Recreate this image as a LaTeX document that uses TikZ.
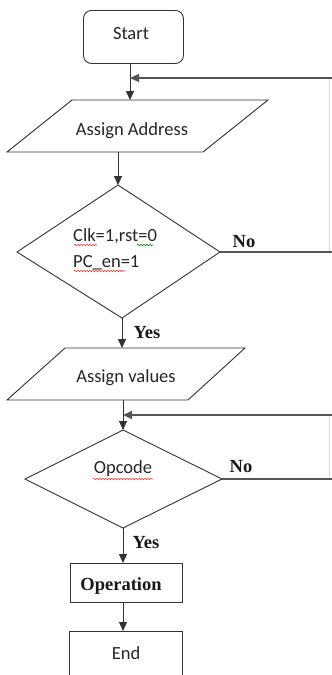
\documentclass[tikz,border=0pt]{standalone}
\usepackage{fontspec}
\setmainfont{Carlito}
\newfontfamily\tnr{Liberation Serif}
\usetikzlibrary{arrows.meta,decorations.pathmorphing}
\definecolor{ink}{HTML}{333333}
\definecolor{fb}{HTML}{555555}
\begin{document}
\begin{tikzpicture}[x=1pt,y=-1pt,
  shapeline/.style={draw=ink,line width=0.9pt},
  flow/.style={draw=ink,line width=0.9pt,-{Triangle[length=9pt,width=8pt]}},
  back/.style={draw=fb,line width=1.4pt},
  backarrow/.style={draw=fb,line width=1.4pt,-{Triangle[length=9pt,width=8pt]}},
  edgeline/.style={draw=fb!22,line width=0.6pt},
  txt/.style={font=\fontsize{18.5}{22}\selectfont,inner sep=0pt,text=black!85},
  lbl/.style={font=\tnr\bfseries\fontsize{18.5}{22}\selectfont,inner sep=0pt,text=black!90},
  squig/.style={decorate,decoration={snake,amplitude=0.7pt,segment length=3pt},line width=0.6pt}
]
\useasboundingbox (0,0) rectangle (332,675);
\clip (0,0) rectangle (332,675);
\fill[white] (0,0) rectangle (332,675);

% Start
\node[shapeline,rounded corners=8pt,minimum width=100pt,minimum height=53pt,anchor=north west,inner sep=0pt] (start) at (83,10) {};
\node[txt] (starttxt) at (131,34) {Start};

% Assign Address
\coordinate (aaTL) at (72,100); \coordinate (aaTR) at (268,100);
\coordinate (aaBR) at (203,152); \coordinate (aaBL) at (7,152);
\draw[shapeline] (aaTL) -- (aaTR) -- (aaBR) -- (aaBL) -- cycle;
\node[txt] (aatxt) at (132,131) {Assign Address};
\coordinate (aaIn) at (130,100);
\coordinate (aaOut) at (118,152);
\coordinate (startOut) at (130,63);
\coordinate (j1) at (130,78);

% Decision 1
\coordinate (d1T) at (118,185); \coordinate (d1R) at (220,252);
\coordinate (d1B) at (122,318); \coordinate (d1L) at (17,252);
\draw[shapeline] (d1T) -- (d1R) -- (d1B) -- (d1L) -- cycle;
\node[txt,anchor=west] (d1a) at (73,236) {Clk=1,rst=0};
\node[txt,anchor=west] (d1b) at (73,263) {PC\_en=1};
\draw[squig,red!80] (74,245) -- (97,245);
\draw[squig,green!50!black] (137,245) -- (153,245);
\draw[squig,red!80] (74,271) -- (125,271);
\node[lbl] (no1) at (244,242) {No};
\node[lbl] (yes1) at (147,333) {Yes};

% Assign values
\coordinate (avTL) at (65,348); \coordinate (avTR) at (245,348);
\coordinate (avBR) at (188,400); \coordinate (avBL) at (7,400);
\draw[shapeline] (avTL) -- (avTR) -- (avBR) -- (avBL) -- cycle;
\node[txt] (avtxt) at (126,378) {Assign values};
\coordinate (avIn) at (122,348);
\coordinate (avOut) at (123,400);
\coordinate (j2) at (123,415);

% Decision 2
\coordinate (d2T) at (123,430); \coordinate (d2R) at (222,479);
\coordinate (d2B) at (123,528); \coordinate (d2L) at (25,479);
\draw[shapeline] (d2T) -- (d2R) -- (d2B) -- (d2L) -- cycle;
\node[txt] (d2txt) at (123,469) {Opcode};
\draw[squig,red!80] (93,479) -- (153,479);
\node[lbl] (no2) at (241,467) {No};
\node[lbl] (yes2) at (146,543) {Yes};

% Operation
\node[shapeline,minimum width=112pt,minimum height=39pt,anchor=north west,inner sep=0pt] (op) at (70,563) {};
\node[lbl] (optxt) at (121,586) {Operation};

% End
\node[shapeline,minimum width=113pt,minimum height=54pt,anchor=north west,inner sep=0pt] (end) at (69,631) {};
\node[txt] (endtxt) at (126,653) {End};

% right edge loop lines
\coordinate (r1t) at (329,78); \coordinate (r1b) at (329,252);
\coordinate (r2t) at (329,415); \coordinate (r2b) at (329,479);
\coordinate (e1a) at (334,78); \coordinate (e1b) at (334,252);
\coordinate (e2a) at (334,415); \coordinate (e2b) at (334,479);
\draw[edgeline] (r1t) -- (r1b);
\draw[edgeline] (r2t) -- (r2b);

% connectors
\draw[flow] (startOut) -- (aaIn);
\draw[flow] (aaOut) -- (d1T);
\draw[flow] (d1B) -- (avIn);
\draw[flow] (avOut) -- (d2T);
\draw[flow] (d2B) -- (op.north -| d2B);
\draw[flow] (op.south -| d2B) -- (end.north -| d2B);
\draw[back] (d1R) -- (e1b);
\draw[back] (d2R) -- (e2b);
\draw[backarrow] (e1a) -- (j1);
\draw[backarrow] (e2a) -- (j2);
\end{tikzpicture}
\end{document}
